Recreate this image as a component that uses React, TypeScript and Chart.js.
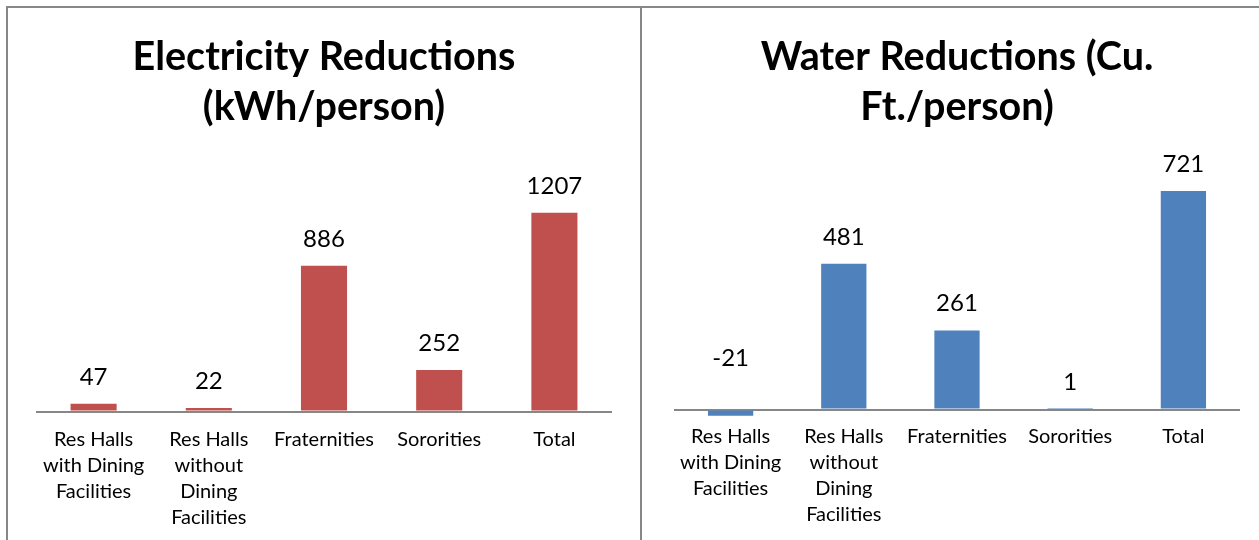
import React, { useEffect, useRef } from "react";
import { Chart, registerables } from "chart.js";

Chart.register(...registerables);

// ---- data ----
const categories: (string | string[])[] = [
  ["Res Halls", "with Dining", "Facilities"],
  ["Res Halls", "without", "Dining", "Facilities"],
  "Fraternities",
  "Sororities",
  "Total",
];
const electricityValues = [47, 22, 886, 252, 1207];
const waterValues = [-21, 481, 261, 1, 721];
const electricityTitle = ["Electricity Reductions", "(kWh/person)"];
const waterTitle = ["Water Reductions (Cu.", "Ft./person)"];

const FONT = "Lato";
const BORDER = "#878787";

const barLabelPlugin = {
  id: "barLabels",
  afterDatasetsDraw(chart: any, _args: any, opts: any) {
    const { ctx } = chart;
    const meta = chart.getDatasetMeta(0);
    const ds = chart.data.datasets[0];
    const zero = chart.scales.y.getPixelForValue(0);
    ctx.save();
    ctx.font = `24px ${FONT}`;
    ctx.fillStyle = "#000";
    ctx.textAlign = "center";
    ctx.textBaseline = "alphabetic";
    meta.data.forEach((el: any, i: number) => {
      const v = ds.data[i] as number;
      const y = v >= 0 ? Math.min(el.y, zero) - opts.gap : zero - opts.negGap;
      ctx.fillText(String(v), el.x, y);
    });
    ctx.restore();
  },
};

type Cfg = {
  values: number[];
  color: string;
  title: string[];
  yMin: number;
  yMax: number;
  titleBottom: number;
  padLeft: number;
  padRight: number;
  padBottom: number;
  tickPad: number;
};

function BarPanel(props: Cfg & { width: number; height: number; left: number; top: number }) {
  const ref = useRef<HTMLCanvasElement | null>(null);
  useEffect(() => {
    if (!ref.current) return;
    const chart = new Chart(ref.current, {
      type: "bar",
      data: {
        labels: categories,
        datasets: [
          {
            data: props.values,
            backgroundColor: props.color,
            borderWidth: 0,
            categoryPercentage: 0.4,
            barPercentage: 1,
          },
        ],
      },
      options: {
        responsive: false,
        animation: false,
        devicePixelRatio: 1,
        layout: {
          padding: { left: props.padLeft, right: props.padRight, top: 0, bottom: props.padBottom },
        },
        plugins: {
          legend: { display: false },
          tooltip: { enabled: false },
          title: {
            display: true,
            text: props.title,
            color: "#000",
            font: { family: FONT, size: 39.5, weight: "bold", lineHeight: 50 / 39.5 },
            padding: { top: 24, bottom: props.titleBottom },
          },
          barLabels: { gap: 19, negGap: 44 },
        } as any,
        scales: {
          x: {
            grid: { display: false, drawTicks: false },
            border: { display: false },
            ticks: {
              color: "#000",
              font: { family: FONT, size: 20, lineHeight: 26 / 20 },
              padding: props.tickPad,
              autoSkip: false,
              maxRotation: 0,
              minRotation: 0,
            },
          },
          y: {
            min: props.yMin,
            max: props.yMax,
            afterBuildTicks: (scale: any) => {
              scale.ticks = [{ value: 0 }];
            },
            grid: { color: BORDER, lineWidth: 2, drawTicks: false },
            border: { display: false },
            ticks: { display: false },
          },
        },
      },
      plugins: [barLabelPlugin],
    });
    return () => chart.destroy();
  }, []);
  return (
    <canvas
      ref={ref}
      width={props.width}
      height={props.height}
      style={{ position: "absolute", left: props.left, top: props.top, width: props.width, height: props.height }}
    />
  );
}

export default function App() {
  return (
    <div
      style={{
        position: "fixed",
        left: 0,
        top: 0,
        width: 1259,
        height: 540,
        overflow: "hidden",
        background: "#fff",
      }}
    >
      <div
        style={{
          position: "absolute",
          left: 6,
          top: 6,
          width: 636,
          height: 620,
          border: `2px solid ${BORDER}`,
          boxSizing: "border-box",
        }}
      />
      <div
        style={{
          position: "absolute",
          left: 640,
          top: 6,
          width: 636,
          height: 620,
          border: `2px solid ${BORDER}`,
          boxSizing: "border-box",
        }}
      />
      <BarPanel
        left={8}
        top={8}
        width={632}
        height={560}
        values={electricityValues}
        color="#C0504D"
        title={electricityTitle}
        yMin={0}
        yMax={1400}
        titleBottom={49}
        padLeft={28}
        padRight={28}
        padBottom={22.5}
        tickPad={15}
      />
      <BarPanel
        left={642}
        top={8}
        width={630}
        height={560}
        values={waterValues}
        color="#4F81BD"
        title={waterTitle}
        yMin={-30}
        yMax={800}
        titleBottom={35}
        padLeft={32}
        padRight={32}
        padBottom={35.4}
        tickPad={5}
      />
    </div>
  );
}
